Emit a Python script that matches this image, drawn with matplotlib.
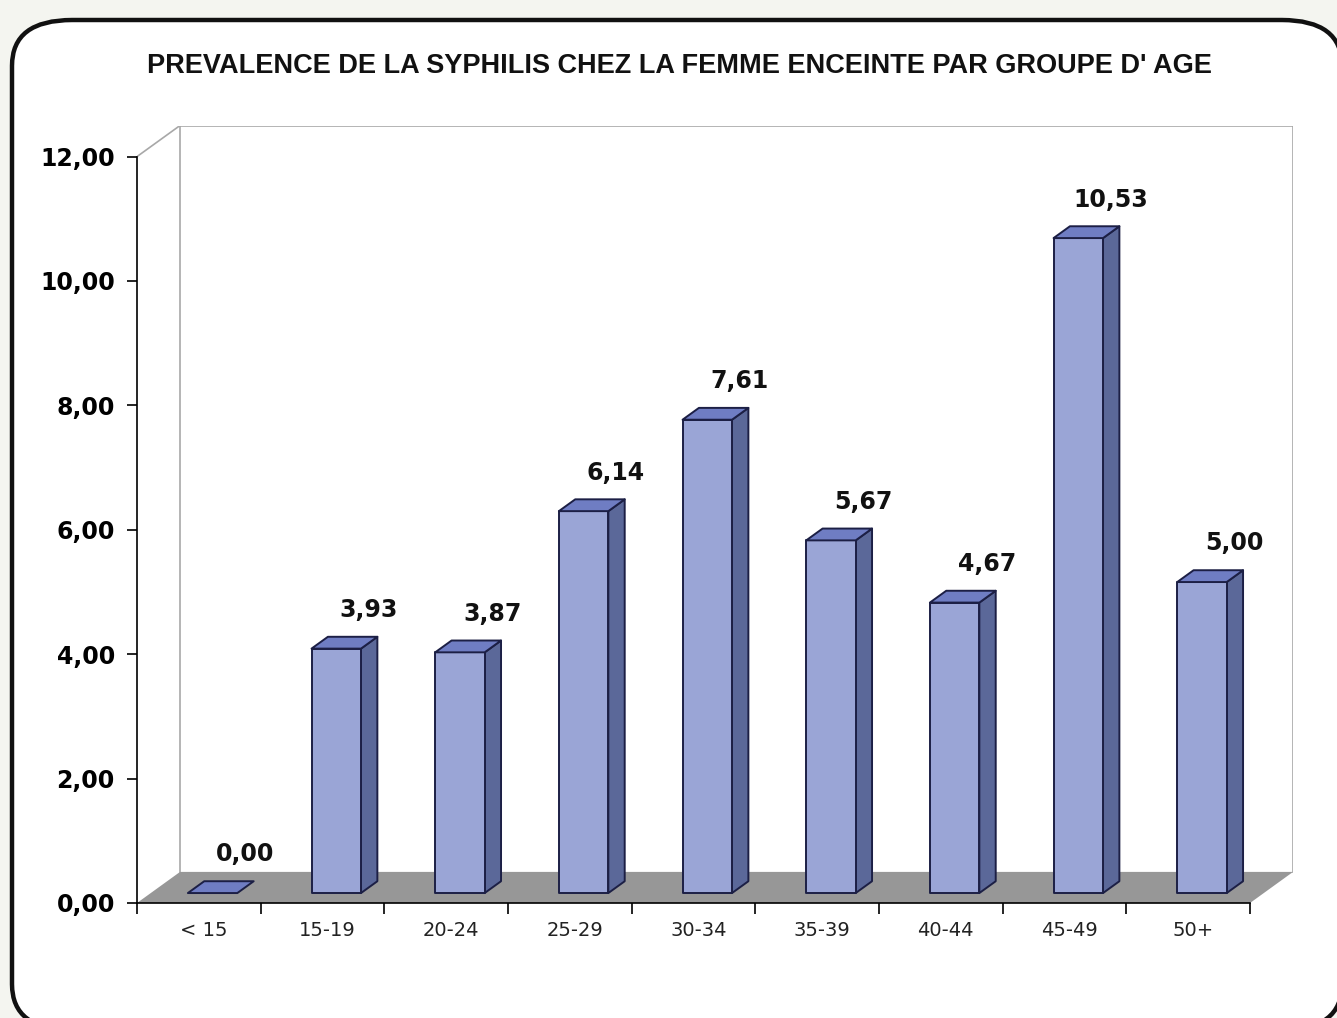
import matplotlib
matplotlib.use("Agg")
import matplotlib.pyplot as plt
from matplotlib.patches import Polygon, FancyBboxPatch

plt.rcParams['font.family'] = ['Liberation Sans', 'DejaVu Sans']

groupes = ["< 15", "15-19", "20-24", "25-29", "30-34", "35-39", "40-44", "45-49", "50+"]
prevalence = [0.00, 3.93, 3.87, 6.14, 7.61, 5.67, 4.67, 10.53, 5.00]
yticks = [0, 2, 4, 6, 8, 10, 12]
titre = "PREVALENCE DE LA SYPHILIS CHEZ LA FEMME ENCEINTE PAR GROUPE D' AGE"

# fausse profondeur 3D (en unites de donnees)
DX = 0.348
DY = 0.50
D0, D1 = 0.32, 0.70
LARG = 0.40

C_FACE = "#9aa5d6"
C_COTE = "#5b6899"
C_DESSUS = "#6f7dc3"
C_BORD = "#1c1f45"
C_SOL = "#979797"
C_MUR = "#a8a8a8"


def fmt(v):
    return f"{v:.2f}".replace(".", ",")


fig = plt.figure(figsize=(13.37, 10.18), dpi=100)
fig.patch.set_facecolor("#f4f5f0")

cadre = FancyBboxPatch((12 / 1337, 1 - 1030 / 1018), 1330 / 1337, 1010 / 1018,
                       boxstyle="round,pad=0,rounding_size=0.045",
                       transform=fig.transFigure, facecolor="white",
                       edgecolor="#111111", linewidth=3.2, zorder=-5)
fig.patches.append(cadre)

n = len(groupes)
ax = fig.add_axes([137 / 1337, (1018 - 903) / 1018, (n + DX) * 123.67 / 1337, (12 + DY) * 62.2 / 1018])
ax.set_zorder(2)
ax.set_xlim(0, n + DX)
ax.set_ylim(0, 12 + DY)
ax.patch.set_alpha(0)

# mur du fond et sol
ax.plot([DX, DX, n + DX, n + DX], [DY, 12 + DY, 12 + DY, DY], color=C_MUR, lw=1.2, zorder=1)
ax.plot([0, DX], [12, 12 + DY], color=C_MUR, lw=1.2, zorder=1)
ax.add_patch(Polygon([(0, 0), (n, 0), (n + DX, DY), (DX, DY)], closed=True,
                     facecolor=C_SOL, edgecolor="none", zorder=2))

# barres
for i, v in enumerate(prevalence):
    x0 = i + 0.5 - LARG / 2 + D0 * DX
    x1 = x0 + LARG
    ddx = (D1 - D0) * DX
    yb0, yb1 = D0 * DY, D1 * DY
    kw = dict(closed=True, edgecolor=C_BORD, linewidth=1.4, joinstyle="round", zorder=3)
    if v > 0:
        ax.add_patch(Polygon([(x1, yb0), (x1 + ddx, yb1), (x1 + ddx, v + yb1), (x1, v + yb0)],
                             facecolor=C_COTE, **kw))
        ax.add_patch(Polygon([(x0, yb0), (x1, yb0), (x1, v + yb0), (x0, v + yb0)],
                             facecolor=C_FACE, **kw))
    ax.add_patch(Polygon([(x0, v + yb0), (x1, v + yb0), (x1 + ddx, v + yb1), (x0 + ddx, v + yb1)],
                         facecolor=C_DESSUS, **kw))
    ax.text(i + 0.5 + D0 * DX + 0.26, v + yb1 + 0.43, fmt(v), ha="center", va="center",
            fontsize=17, fontweight="bold", family="DejaVu Sans", color="#111111", zorder=4)

# axes
for s in ["top", "right"]:
    ax.spines[s].set_visible(False)
ax.spines["left"].set_bounds(0, 12)
ax.spines["bottom"].set_bounds(0, n)
ax.spines["left"].set_linewidth(1.2)
ax.spines["bottom"].set_linewidth(1.2)
ax.spines["left"].set_zorder(5)
ax.spines["bottom"].set_zorder(5)

ax.set_yticks(yticks)
ax.set_yticklabels([fmt(t) for t in yticks], fontsize=17, fontweight="bold", family="DejaVu Sans")
ax.tick_params(axis="y", length=7, width=1.2, pad=9)

ax.set_xticks(range(n + 1))
ax.set_xticklabels([""] * (n + 1))
ax.set_xticks([i + 0.5 + 0.04 for i in range(n)], minor=True)
ax.set_xticklabels(groupes, minor=True, fontsize=14, family="DejaVu Sans", color="#222222")
ax.tick_params(axis="x", which="major", length=8, width=1.2)
ax.tick_params(axis="x", which="minor", length=0, pad=13)

fig.text(679 / 1337, 1 - 66 / 1018, titre, ha="center", va="center",
         fontsize=19.5, fontweight="bold", color="#111111")

fig.savefig("out.png", dpi=100, facecolor=fig.get_facecolor())
